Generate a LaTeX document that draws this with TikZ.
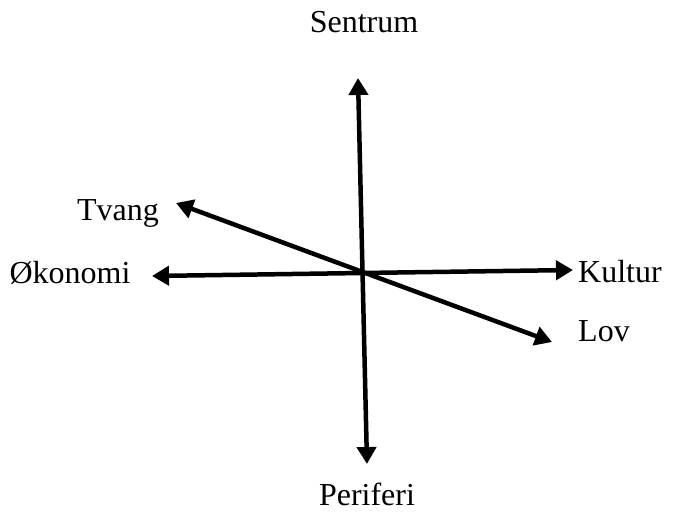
\documentclass[tikz,border=0pt]{standalone}
\usepackage{fontspec}
\setmainfont{Liberation Serif}
\usetikzlibrary{arrows.meta,positioning}

\begin{document}
\begin{tikzpicture}[
            x=1pt, y=-1pt,
            label/.style={font=\fontsize{32}{38}\selectfont, inner sep=0pt},
            axis/.style={{Triangle[length=17pt,width=19pt]}-{Triangle[length=17pt,width=19pt]}, line width=4.5pt}
        ]
            \useasboundingbox (0,0) rectangle (680,524);
            % arrow ends
            \coordinate (top) at (358,78);
            \coordinate (bottom) at (367,464);
            \coordinate (left) at (152,276);
            \coordinate (right) at (573,270);
            \coordinate (upleft) at (176,203);
            \coordinate (downright) at (552,342);

            \node[label] (sentrum) at (364,22) {Sentrum};
            \node[label] (periferi) at (367,494) {Periferi};
            \node[label] (tvang) at (118,213) {Tvang};
            \node[label] (okonomi) at (70,273) {Økonomi};
            \node[label] (kultur) at (620,272) {Kultur};
            \node[label] (lov) at (604,331) {Lov};

            \draw[axis] (top) -- (bottom);
            \draw[axis] (left) -- (right);
            \draw[axis] (upleft) -- (downright);
        \end{tikzpicture}
\end{document}
